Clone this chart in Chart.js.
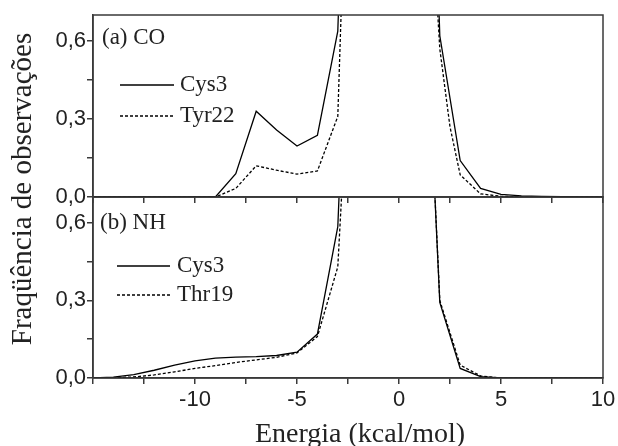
<!DOCTYPE html>
<html><head><meta charset="utf-8">
<script src="https://cdn.jsdelivr.net/npm/chart.js@4/dist/chart.umd.min.js"></script>
<style>
html,body{margin:0;padding:0;background:#fff;}
#wrap{position:relative;width:618px;height:446px;overflow:hidden;}
canvas{position:absolute;left:0;top:0;}
</style></head><body>
<div id="wrap"><canvas id="cBot" width="618" height="446"></canvas><canvas id="cTop" width="618" height="446"></canvas></div>
<script>
// ---- data ----
const energy = [-15,-14,-13,-12,-11,-10,-9,-8,-7,-6,-5,-4,-3,-2,-1,0,1,2,3,4,5,6,7,8,9,10];
const coCys3 = [0,0,0,0,0,0,0,0.09,0.33,0.258,0.196,0.237,0.638,3.0,3.5,3.5,3.0,0.62,0.14,0.033,0.01,0.004,0.002,0.001,0,0];
const energyTyr22 = [-15,-14,-13,-12,-11,-10,-9,-8,-7,-6,-5,-4,-3,-2,-1,0,1,2,2.5,3,4,5,6,7,8,9,10];
const coTyr22 = [0,0,0,0,0,0,0,0.033,0.12,0.103,0.088,0.10,0.31,2.75,3.2,3.2,1.9,0.57,0.27,0.085,0.012,0.003,0,0,0,0,0];
const nhCys3 = [0,0.003,0.013,0.03,0.05,0.066,0.077,0.081,0.083,0.087,0.10,0.17,0.585,2.5,3,3,2.0,0.292,0.037,0.005,0,0,0,0,0,0];
const nhThr19 = [0,0.001,0.004,0.012,0.024,0.037,0.048,0.06,0.07,0.08,0.097,0.16,0.43,1.9,3,3,2.0,0.30,0.05,0.008,0,0,0,0,0,0];
const xTicks = [-15,-12.5,-10,-7.5,-5,-2.5,0,2.5,5,7.5,10];
const xLabeled = [-10,-5,0,5,10];
const yTicks = [0,0.15,0.3,0.45,0.6];
const yLabeled = [0,0.3,0.6];
const panelLabels = ['(a) CO','(b) NH'];
const seriesNames = [['Cys3','Tyr22'],['Cys3','Thr19']];
const xTitle = 'Energia (kcal/mol)';
const yTitle = 'Fraqüência de observações';

const pts = (xs, ys) => xs.map((x,i)=>({x:x, y:ys[i]}));
const AX = '#3a3a3a';
const TXT = '#222';
const SERIF = '"Liberation Serif", "Times New Roman", serif';
const SANS = '"Liberation Sans", Arial, sans-serif';

function ds(label, data, dashed){
  return {label, data, borderColor:'#000', borderWidth:1.3, borderDash: dashed ? [3,2] : [],
    pointRadius:0, tension:0, fill:false};
}

const framePlugin = {
  id:'frame',
  afterDraw(chart, args, o){
    const {ctx, chartArea:a} = chart;
    ctx.save();
    ctx.strokeStyle = AX; ctx.lineWidth = 1.5;
    ctx.strokeRect(a.left, a.top, a.right-a.left, a.bottom-a.top);
    ctx.fillStyle = TXT; ctx.font = '23px ' + SERIF;
    ctx.textBaseline = 'middle'; ctx.textAlign = 'left';
    ctx.fillText(o.panel, o.px, o.py);
    chart.data.datasets.forEach((d,i)=>{
      const y = o.ly[i];
      ctx.save();
      ctx.strokeStyle = '#000'; ctx.lineWidth = 1.3; ctx.setLineDash(d.borderDash);
      ctx.beginPath(); ctx.moveTo(o.lx0, y); ctx.lineTo(o.lx1, y); ctx.stroke();
      ctx.restore();
      ctx.fillStyle = TXT; ctx.font = '23px ' + SERIF; ctx.textBaseline='middle';
      ctx.fillText(d.label, o.tx, y);
    });
    if (o.titles){
      ctx.font = '28px ' + SERIF; ctx.textAlign='center'; ctx.textBaseline='alphabetic';
      ctx.fillText(xTitle, 360, 442);
      ctx.save();
      ctx.translate(31, 189); ctx.rotate(-Math.PI/2);
      ctx.font = '29px ' + SERIF; ctx.textAlign='center'; ctx.textBaseline='alphabetic';
      ctx.fillText(yTitle, 0, 0);
      ctx.restore();
    }
    ctx.restore();
  }
};

function makeChart(id, datasets, showX, padTop, xH, frameOpts){
  return new Chart(document.getElementById(id), {
    type:'line',
    data:{datasets},
    options:{
      responsive:false, animation:false, devicePixelRatio:1,
      layout:{padding:{left:0, right:15, top:padTop, bottom:0}},
      plugins:{legend:{display:false}, tooltip:{enabled:false}, frame:frameOpts},
      scales:{
        x:{type:'linear', min:-15, max:10,
          afterBuildTicks:s=>{ s.ticks = xTicks.map(v=>({value:v})); },
          afterFit:s=>{ s.height = xH; s.paddingLeft=0; s.paddingRight=0; },
          ticks:{display:showX, autoSkip:false, maxRotation:0, padding:3, color:TXT,
            font:{family:SANS, size:22},
            callback:v=> xLabeled.includes(v) ? String(v) : ''},
          grid:{drawOnChartArea:false, drawTicks:true, tickLength:6, color:AX, lineWidth:1.5},
          border:{display:true, color:AX, width:1.5}
        },
        y:{type:'linear', min:0, max:0.7,
          afterBuildTicks:s=>{ s.ticks = yTicks.map(v=>({value:v})); },
          afterFit:s=>{ s.width = 93; s.paddingTop=0; s.paddingBottom=0; },
          ticks:{autoSkip:false, padding:1, color:TXT, font:{family:SANS, size:22},
            callback:v=> yLabeled.some(t=>Math.abs(t-v)<1e-9) ? v.toFixed(1).replace('.',',') : ''},
          grid:{drawOnChartArea:false, drawTicks:true, tickLength:6, color:AX, lineWidth:1.5},
          border:{display:true, color:AX, width:1.5}
        }
      }
    },
    plugins:[framePlugin]
  });
}

makeChart('cBot', [ds(seriesNames[1][0], pts(energy, nhCys3), false), ds(seriesNames[1][1], pts(energy, nhThr19), true)],
  true, 197, 68, {panel:panelLabels[1], px:100, py:223, ly:[266,295], lx0:117, lx1:170, tx:177, titles:true});
makeChart('cTop', [ds(seriesNames[0][0], pts(energy, coCys3), false), ds(seriesNames[0][1], pts(energyTyr22, coTyr22), true)],
  false, 15, 249, {panel:panelLabels[0], px:102, py:38, ly:[85,116], lx0:120, lx1:174, tx:180, titles:false});
</script>
</body></html>
